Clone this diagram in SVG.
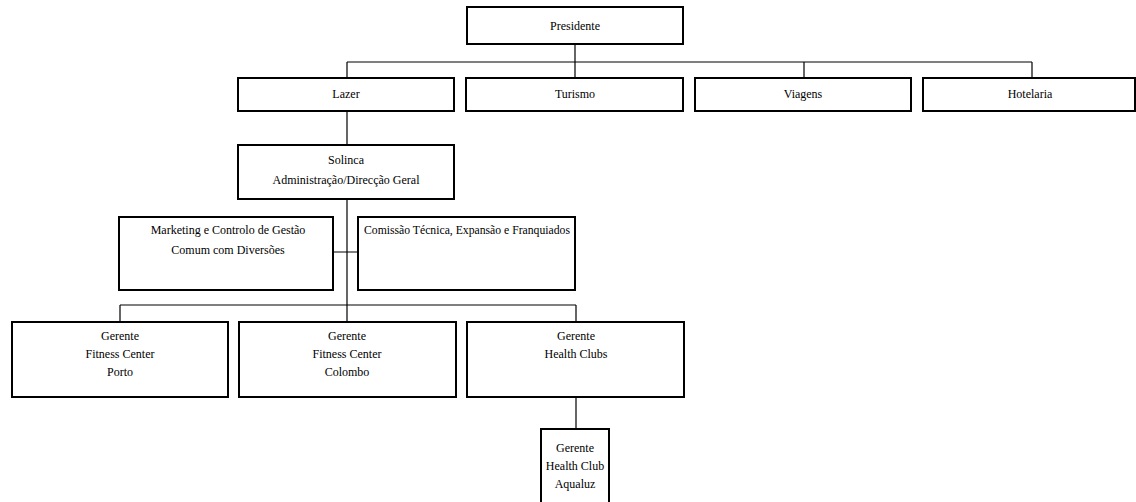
<svg xmlns="http://www.w3.org/2000/svg" width="1136" height="502" viewBox="0 0 1136 502">
<style>
.box{fill:#fff;stroke:#000;stroke-width:2}
.ln{fill:none;stroke:#000;stroke-width:1.2}
text{font-family:"Liberation Serif","Times New Roman",serif;font-size:12px;fill:#000;text-anchor:middle}
</style>
<rect width="1136" height="502" fill="#fff"/>
<g id="connectors">
<path class="ln" d="M575 44V62M347 62H1032M347 62V78M575 62V78M804 62V78M1032 62V78"/>
<path class="ln" d="M347 111V145M347 199V305M333 252H358"/>
<path class="ln" d="M120 305H576M120 305V322M347 305V322M576 305V322M576 397V429"/>
</g>
<g id="presidente"><rect class="box" x="467" y="7" width="216" height="37"/><text x="575" y="30">Presidente</text></g>
<g id="lazer"><rect class="box" x="238" y="78" width="216" height="33"/><text x="346" y="98">Lazer</text></g>
<g id="turismo"><rect class="box" x="466" y="78" width="217" height="33"/><text x="575" y="98">Turismo</text></g>
<g id="viagens"><rect class="box" x="695" y="78" width="216" height="33"/><text x="803" y="98">Viagens</text></g>
<g id="hotelaria"><rect class="box" x="923" y="78" width="212" height="33"/><text x="1030" y="98">Hotelaria</text></g>
<g id="solinca"><rect class="box" x="238" y="145" width="216" height="54"/><text x="346" y="164">Solinca</text><text x="346" y="184">Administração/Direcção Geral</text></g>
<g id="marketing"><rect class="box" x="119" y="217" width="214" height="73"/><text x="228" y="234">Marketing e Controlo de Gestão</text><text x="228" y="254">Comum com Diversões</text></g>
<g id="comissao"><rect class="box" x="358" y="217" width="217" height="73"/><text x="467" y="234" textLength="206" lengthAdjust="spacingAndGlyphs">Comissão Técnica, Expansão e Franquiados</text></g>
<g id="porto"><rect class="box" x="12" y="322" width="216" height="75"/><text x="120" y="340">Gerente</text><text x="120" y="358">Fitness Center</text><text x="120" y="376">Porto</text></g>
<g id="colombo"><rect class="box" x="239" y="322" width="217" height="75"/><text x="347" y="340">Gerente</text><text x="347" y="358">Fitness Center</text><text x="347" y="376">Colombo</text></g>
<g id="healthclubs"><rect class="box" x="467" y="322" width="217" height="75"/><text x="576" y="340">Gerente</text><text x="576" y="358">Health Clubs</text></g>
<g id="aqualuz"><rect class="box" x="541" y="429" width="68" height="80"/><text x="575" y="452">Gerente</text><text x="575" y="470">Health Club</text><text x="575" y="488">Aqualuz</text></g>
</svg>
